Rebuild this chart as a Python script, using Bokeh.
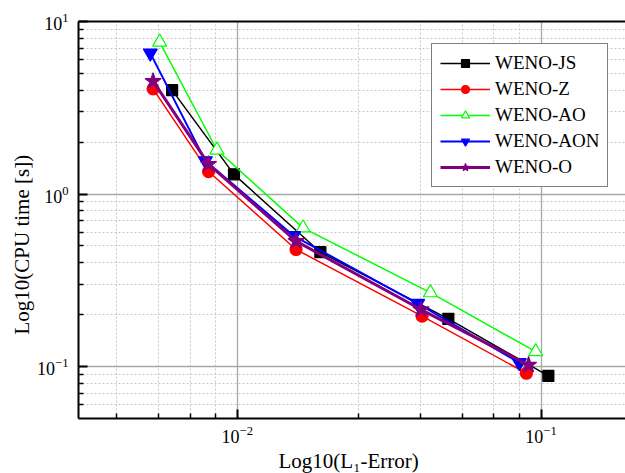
from bokeh.plotting import figure
from bokeh.models import Range1d, FixedTicker, LogAxis, Legend, LegendItem, Title
from bokeh.embed import file_html
from bokeh.resources import INLINE

# ---- data ----
series_names = ["WENO-JS", "WENO-Z", "WENO-AO", "WENO-AON", "WENO-O"]
js_err = [0.00610, 0.00975, 0.01877, 0.04952, 0.1057]
js_cpu = [4.00, 1.30, 0.460, 0.189, 0.0882]
z_err = [0.00528, 0.00804, 0.01561, 0.04058, 0.0895]
z_cpu = [4.07, 1.35, 0.477, 0.196, 0.0915]
ao_err = [0.00555, 0.00857, 0.01646, 0.04321, 0.0960]
ao_cpu = [7.60, 1.80, 0.637, 0.268, 0.122]
aon_err = [0.00517, 0.00785, 0.01532, 0.03924, 0.0848]
aon_cpu = [6.56, 1.557, 0.573, 0.232, 0.1053]
o_err = [0.00528, 0.00804, 0.01561, 0.04026, 0.0910]
o_cpu = [4.51, 1.49, 0.533, 0.214, 0.1021]

x_major = [0.01, 0.1]
x_minor = [0.004, 0.0055, 0.007, 0.0085, 0.025, 0.04, 0.055, 0.07, 0.085]
y_major = [0.1, 1.0, 10.0]
y_minor = [0.06, 0.07, 0.08, 0.09, 0.2, 0.3, 0.4, 0.5, 0.6, 0.7, 0.8, 0.9,
           2, 3, 4, 5, 6, 7, 8, 9]

FONT = "Liberation Serif"

p = figure(width=625, height=473, x_axis_type="log", y_axis_type="log",
           x_range=Range1d(0.003, 0.1897), y_range=Range1d(0.05, 10),
           output_backend="svg", toolbar_location=None,
           min_border_left=78, min_border_right=0, min_border_top=21,
           min_border_bottom=54)
p.title.visible = False
p.outline_line_color = None
p.background_fill_color = "white"
p.border_fill_color = "white"

xt = FixedTicker(ticks=x_major, minor_ticks=x_minor)
yt = FixedTicker(ticks=y_major, minor_ticks=y_minor)
p.xaxis.ticker = xt
p.yaxis.ticker = yt
p.xgrid.ticker = xt
p.ygrid.ticker = yt

for g in (p.xgrid, p.ygrid):
    g.grid_line_color = "#a6a6a6"
    g.grid_line_width = 1.3
    g.minor_grid_line_color = "#c8c8c8"
    g.minor_grid_line_dash = "2 2"
    g.minor_grid_line_width = 1

for ax in (p.xaxis, p.yaxis):
    ax.axis_line_width = 2
    ax.axis_line_color = "black"
    ax.major_tick_in = 9
    ax.major_tick_out = 0
    ax.minor_tick_in = 5
    ax.minor_tick_out = 0
    ax.major_tick_line_width = 2
    ax.minor_tick_line_width = 1.5
    ax.major_tick_line_color = "black"
    ax.minor_tick_line_color = "black"
    ax.major_label_text_font = FONT
    ax.major_label_text_font_size = "18px"
    ax.major_label_text_color = "black"
p.xaxis.major_label_standoff = 7
p.yaxis.major_label_standoff = 10

top = LogAxis(ticker=FixedTicker(ticks=[]), axis_line_width=2, axis_line_color="black",
              major_tick_in=0, major_tick_out=0, minor_tick_in=0, minor_tick_out=0)
p.add_layout(top, "above")

xl = Title(text="Log10(L\u2081-Error)", align="left", offset=200,
           text_font=FONT, text_font_size="21px", text_font_style="normal",
           text_color="black", standoff=2)
p.add_layout(xl, "below")
yl = Title(text="Log10(CPU time [s])", align="left", offset=84,
           text_font=FONT, text_font_size="21px", text_font_style="normal",
           text_color="black", standoff=2)
p.add_layout(yl, "left")

styles = [
    (js_err, js_cpu, "black", "square", 11, "black", 1.5),
    (z_err, z_cpu, "red", "circle", 12, "red", 1.5),
    (ao_err, ao_cpu, "#00ff00", "triangle", 14, "white", 1.5),
    (aon_err, aon_cpu, "blue", "inverted_triangle", 14, "blue", 2),
    (o_err, o_cpu, "purple", "star", 17, "purple", 3),
]

items = []
for name, (xs, ys, col, mk, sz, fill, lw) in zip(series_names, styles):
    r1 = p.line(xs, ys, line_color=col, line_width=lw)
    r2 = p.scatter(xs, ys, marker=mk, size=sz, line_color=col, fill_color=fill,
                   line_width=1.2)
    items.append(LegendItem(label=name, renderers=[r1, r2]))

legend = Legend(items=items, location=(353, 231))
legend.label_text_font = FONT
legend.label_text_font_size = "19px"
legend.label_text_color = "black"
legend.glyph_width = 50
legend.glyph_height = 20
legend.label_height = 20
legend.spacing = 4
legend.padding = 8
legend.label_standoff = 5
legend.border_line_color = "black"
legend.border_line_width = 1
legend.background_fill_color = "white"
legend.background_fill_alpha = 1
legend.margin = 0
p.add_layout(legend, "center")

open("out.html", "w").write(file_html(p, INLINE))
